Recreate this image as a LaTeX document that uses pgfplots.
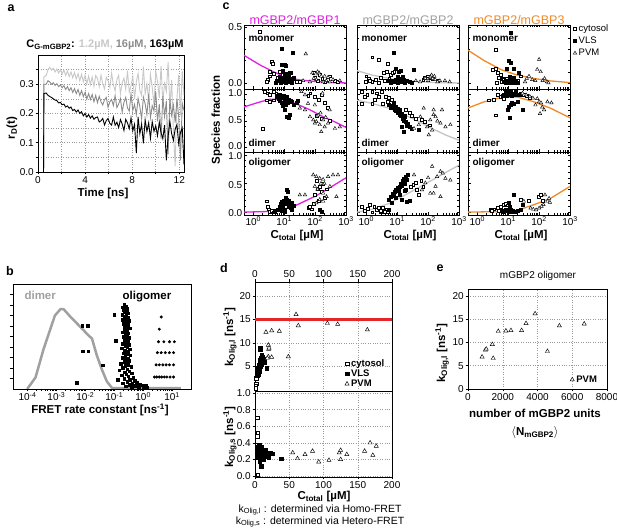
\documentclass[border=0pt]{standalone}
\usepackage{fontspec}
\setmainfont{Liberation Sans}
\usepackage{pgfplots}
\pgfplotsset{compat=1.18}
\usepackage{pgfplotstable}
\definecolor{mag}{HTML}{E020E0}
\definecolor{gry}{HTML}{A0A0A0}
\definecolor{cgry}{HTML}{C4C4C4}
\definecolor{org}{HTML}{F08A28}
\definecolor{lgr}{HTML}{C8C8C8}
\definecolor{mgr}{HTML}{8C8C8C}
\definecolor{redl}{HTML}{E4262B}
\newcommand\tk{\fontsize{10}{11}\selectfont}
\newcommand\lb{\bfseries\fontsize{11.5}{13}\selectfont}
\pgfplotsset{
 mybase/.style={scale only axis, anchor=south west, tick label style={font=\tk, inner sep=1.5pt},
   tick style={black, line width=0.5pt}, axis line style={line width=0.6pt},
   major tick length=2.5pt, minor tick length=1.6pt,
   grid style={dotted, gray!80, line width=0.5pt},
   minor grid style={dotted, gray!80, line width=0.5pt},
   legend cell align=left,
   legend image code/.code={\draw[mark repeat=2,mark phase=2,##1] plot coordinates {(0pt,0pt)(3pt,0pt)(6pt,0pt)};}},
 cyt/.style={only marks, mark=square*, mark size=1.4pt, mark options={fill=white, draw=black, line width=0.45pt}},
 vls/.style={only marks, mark=square*, mark size=1.5pt, mark options={fill=black, draw=black}},
 pvm/.style={only marks, mark=triangle*, mark size=2pt, mark options={fill=white, draw=black, line width=0.45pt}},
 mycax/.style={mybase, width=102pt, xmin=0.5, xmax=1000, xtick={1,10,100,1000}, xticklabels={}},
 myrowa/.style={height=64pt, ymin=-0.054, ymax=0.518, ytick={0,0.5}, minor ytick={0.1,0.2,0.3,0.4}},
 myrowb/.style={height=63pt, ymin=-0.08, ymax=1.1, ytick={0,0.5,1}, minor ytick={0.1,0.2,0.3,0.4,0.6,0.7,0.8,0.9}, yticklabel style={yshift=1.2pt}},
 myrowc/.style={height=63pt, ymin=-0.05, ymax=1.05, ytick={0,0.5,1}, minor ytick={0.1,0.2,0.3,0.4,0.6,0.7,0.8,0.9}, yticklabel style={yshift=-1.2pt}},
 myxlab/.style={xticklabels={10\textsuperscript{0},10\textsuperscript{1},10\textsuperscript{2},10\textsuperscript{3}}},
}
\pgfplotstableread{
t L G B
0.47 0 0 0
0.50 0.325 0.300 0.268
0.70 0.330 0.300 0.270
0.85 0.350 0.312 0.262
1.00 0.358 0.308 0.258
1.15 0.348 0.300 0.255
1.30 0.355 0.305 0.250
1.45 0.342 0.296 0.246
1.60 0.352 0.302 0.244
1.75 0.338 0.292 0.236
1.90 0.350 0.298 0.238
2.05 0.335 0.288 0.230
2.20 0.348 0.295 0.232
2.35 0.330 0.282 0.222
2.50 0.345 0.292 0.226
2.65 0.326 0.278 0.218
2.80 0.342 0.288 0.222
2.95 0.322 0.272 0.210
3.10 0.340 0.285 0.214
3.25 0.318 0.268 0.205
3.40 0.336 0.282 0.212
3.55 0.312 0.262 0.200
3.70 0.334 0.278 0.206
3.85 0.308 0.258 0.192
4.00 0.330 0.272 0.200
4.15 0.302 0.250 0.188
4.30 0.328 0.268 0.196
4.45 0.298 0.248 0.184
4.60 0.325 0.265 0.192
4.75 0.292 0.240 0.180
4.90 0.330 0.262 0.186
5.05 0.320 0.237 0.188
5.20 0.292 0.259 0.171
5.35 0.331 0.240 0.175
5.50 0.301 0.229 0.183
5.65 0.284 0.247 0.161
5.80 0.324 0.255 0.176
5.95 0.311 0.221 0.183
6.10 0.290 0.240 0.166
6.25 0.338 0.248 0.160
6.40 0.299 0.227 0.188
6.55 0.277 0.261 0.160
6.70 0.315 0.220 0.170
6.85 0.331 0.232 0.152
7.00 0.267 0.251 0.179
7.15 0.305 0.205 0.164
7.30 0.321 0.238 0.142
7.45 0.283 0.255 0.180
7.60 0.346 0.219 0.168
7.75 0.273 0.208 0.148
7.90 0.295 0.267 0.185
8.05 0.328 0.210 0.141
8.20 0.250 0.231 0.163
8.35 0.309 0.196 0.065
8.50 0.337 0.251 0.188
8.65 0.279 0.223 0.131
8.80 0.261 0.182 0.164
8.95 0.360 0.256 0.098
9.10 0.267 0.233 0.178
9.25 0.302 0.196 0.139
9.40 0.246 0.266 0.168
9.55 0.334 0.186 0.115
9.70 0.291 0.227 0.172
9.85 0.227 0.209 0.139
10.00 0.345 0.274 0.158
10.15 0.310 0.173 0.124
10.30 0.253 0.232 0.170
10.45 0.362 0.114 0.135
10.60 0.239 0.259 0.114
10.75 0.303 0.190 0.160
10.90 0.275 0.243 0.040
11.05 0.376 0.060 0.121
11.20 0.222 0.251 0.173
11.35 0.314 0.194 0.131
11.50 0.137 0.228 0.108
11.65 0.020 0.169 0.147
11.80 0.252 0.250 0.162
11.95 0.332 0.189 0.097
12.10 0.194 0.040 0.135
12.25 0.345 0.235 0.151
12.40 0.261 0.210 0.025
}\tabA
\begin{document}
\begin{tikzpicture}
\path[use as bounding box] (0pt,0pt) rectangle (617pt,529pt);

% ---------------- panel a
\begin{axis}[mybase, at={(38pt,357pt)}, width=146pt, height=117pt, xmin=0, xmax=12.4, ymin=0, ymax=0.4,
  xtick={0,4,8,12}, xticklabels={0,4,8,12}, minor xtick={2,6,10},
  ytick={0,0.1,0.2,0.3}, yticklabels={0.0,0.1,0.2,0.3}, minor ytick={0.05,0.15,0.25,0.35},
  grid=both, tick align=outside, xtick pos=left, ytick pos=left]
\addplot[lgr, line width=0.9pt, no markers] table[x=t,y=L]{\tabA};
\addplot[mgr, line width=0.9pt, no markers] table[x=t,y=G]{\tabA};
\addplot[black, line width=0.9pt, no markers] table[x=t,y=B]{\tabA};
\end{axis}

% ---------------- panel b
\begin{axis}[mybase, at={(13pt,140pt)}, width=178pt, height=105pt, xmode=log, xmin=3.16e-5, xmax=45, ymin=0, ymax=10,
  xtick={1e-4,1e-3,1e-2,1e-1,1,10},
  xticklabels={10\textsuperscript{-4},10\textsuperscript{-3},10\textsuperscript{-2},10\textsuperscript{-1},10\textsuperscript{0},10\textsuperscript{1}},
  xticklabel style={inner sep=0.5pt},
  ytick={1,2,3,4,5,6,7,8,9}, yticklabels={}, tick align=outside, xtick pos=left, ytick pos=left]
\addplot[gry, line width=2.5pt, no markers] coordinates {(9.8e-5,0) (1.9e-4,1.1) (3.6e-4,3.8) (8.9e-4,7.0) (1.38e-3,7.6) (1.78e-3,7.6) (3.0e-3,6.9) (6.8e-3,5.9) (1.29e-2,5.1) (1.7e-2,4.8) (2.5e-2,3.2) (3.8e-2,1.8) (5.6e-2,0.7) (8.5e-2,0.08) (20,0.08)};
\addplot[only marks, mark=square*, mark size=1.3pt, black] coordinates {(0.0078,6.0) (0.012,6.0) (0.0083,3.6) (0.0126,3.6) (0.04,2.25) (0.0051,0.6)};
\addplot[only marks, mark=square*, mark size=1.3pt, black] coordinates {
(0.22,8.0) (0.25,7.9) (0.2,7.8) (0.28,7.7) (0.24,7.6) (0.21,7.5) (0.27,7.4) (0.23,7.3) (0.3,7.2) (0.19,7.1) (0.1,7.05) (0.26,7.0)
(0.22,6.9) (0.29,6.8) (0.25,6.7) (0.2,6.6) (0.32,6.5) (0.24,6.4) (0.27,6.3) (0.21,6.2) (0.3,6.1) (0.23,6.0) (0.26,5.9) (0.35,5.8)
(0.22,5.7) (0.28,5.6) (0.25,5.5) (0.19,5.4) (0.3,5.3) (0.24,5.2) (0.27,5.1) (0.21,5.0) (0.33,4.9) (0.25,4.8) (0.11,4.6) (0.22,4.65)
(0.29,4.5) (0.26,4.4) (0.2,4.3) (0.31,4.2) (0.24,4.1) (0.28,4.0) (0.18,3.9) (0.34,3.8) (0.23,3.7) (0.26,3.6) (0.3,3.5) (0.21,3.4)
(0.27,3.3) (0.36,3.2) (0.24,3.1) (0.19,3.0) (0.29,2.9) (0.25,2.8) (0.32,2.7) (0.22,2.6) (0.27,2.5) (0.17,2.4) (0.3,2.3) (0.24,2.2)
(0.38,2.1) (0.2,2.0) (0.28,1.9) (0.15,1.8) (0.33,1.7) (0.23,1.6) (0.4,1.5) (0.26,1.4) (0.18,1.3) (0.3,1.2) (0.45,1.1) (0.22,1.0)
(0.13,0.9) (0.35,0.9) (0.5,0.8) (0.28,0.7) (0.6,0.6) (0.2,0.55) (0.42,0.5) (0.75,0.45) (0.33,0.4) (0.9,0.35) (0.55,0.3) (1.2,0.3)
(0.25,0.25) (0.7,0.2) (1.0,0.2) (0.4,0.15) (1.35,0.15)};
\addplot[only marks, mark=*, mark size=1.3pt, black] coordinates {
(4.2,6.86) (3.6,5.7) (3.4,4.5) (5.2,4.5) (8.1,4.5) (12,4.5)
(3.1,3.46) (4.2,3.46) (5.8,3.46) (8.1,3.46) (11.2,3.46)
(2.8,2.3) (3.6,2.3) (4.8,2.3) (6.2,2.3) (8.1,2.3) (11.2,2.3)
(2.45,1.14) (2.95,1.14) (3.6,1.14) (4.4,1.14) (5.4,1.14) (6.6,1.14) (8.5,1.14) (11.2,1.14)};
\end{axis}

% ---------------- panel c, column 1
\begin{axis}[xmode=log, mycax, myrowa, at={(244pt,440pt)}, yticklabels={0.0,0.5}]
\addplot[cyt] coordinates {(1.64,0.46) (3.9,0.19) (4.2,0.17) (3.0,0.03) (2.7,0.01) (3.5,0.06) (3.3,0.10) (4.5,0.08) (5.5,0.02) (7.2,0.10) (6,0.05) (9,0.07) (12,0.03) (15,0.09) (19.5,0.04) (25,0.01) (31.6,0.01) (90,0.09) (100,0.05) (120,0.02) (140,0.07) (170,0.04) (210,0.01) (250,0.03) (300,0.06) (420,0.02) (550,0.01)};
\addplot[vls] coordinates {(8.1,0.31) (18.6,0.27) (8.1,0.16) (10,0.16) (11.2,0.15) (9,0.11) (12,0.08) (7,0.06) (8,0.04) (9.5,0.02) (10.5,0.05) (11,0.0) (12.5,0.03) (14,0.06) (6,0.02) (7.5,0.0) (13,0.01) (15,0.04) (17,0.02) (20,0.05) (18,0.0) (9,0.01) (10,0.07) (16,0.09) (5.5,0.0)};
\addplot[pvm] coordinates {(50,0.26) (81,0.09) (105,0.08) (135,0.09) (158,0.06) (204,0.06) (263,0.05) (380,0.03) (631,0.02) (110,0.03) (68,0.01) (41,0.02) (182,0.01) (120,0.1) (300,0.01) (90,0.04) (230,0.02)};
\addplot[mag, line width=1.3pt, no markers] coordinates {(0.48,0.25) (1.66,0.16) (4.5,0.10) (12,0.05) (32,0.027) (112,0.012) (380,0.003) (1000,0.0)};
\node[anchor=west, font=\bfseries\fontsize{10}{11}\selectfont] at (rel axis cs:0.01,0.78) {monomer};
\end{axis}
\begin{axis}[xmode=log, mycax, myrowb, at={(244pt,377pt)}, yticklabels={0.0,0.5,1.0}]
\addplot[cyt] coordinates {(2.4,1.05) (3.0,1.02) (3.5,0.99) (4.5,1.05) (5.5,1.02) (2.7,0.89) (3.5,0.86) (4.5,0.89) (6,0.95) (7,1.0) (2.0,0.36) (60,0.98) (70,1.02) (100,0.95) (130,0.90) (160,1.0) (200,0.85) (250,0.75) (110,0.6) (160,0.55) (300,0.5)};
\addplot[vls] coordinates {(5.6,0.95) (6.5,1.0) (7.5,0.97) (8.5,0.93) (9.5,0.98) (10.5,0.92) (12,0.95) (14,0.9) (16,0.88) (7,0.88) (8,0.85) (9,0.82) (10,0.87) (11,0.8) (13,0.84) (18,0.86) (20,0.8) (10,0.71) (12,0.58) (15,0.61) (14,0.57) (28,0.89) (25,0.84) (6.5,0.92) (9,0.78)};
\addplot[pvm] coordinates {(36,1.05) (47,0.99) (59,0.83) (32,0.74) (47,0.71) (68,0.58) (87,0.52) (98,0.46) (110,0.49) (141,0.43) (182,0.52) (204,0.39) (263,0.46) (295,0.71) (437,0.36) (631,0.39) (158,0.3) (126,0.61) (174,1.02) (98,0.8) (150,0.65) (220,0.57)};
\addplot[mag, line width=1.3pt, no markers] coordinates {(0.48,0.76) (1.3,0.84) (3.5,0.91) (9.3,0.90) (25,0.82) (68,0.71) (182,0.58) (490,0.47) (1000,0.38)};
\node[anchor=west, font=\bfseries\fontsize{10}{11}\selectfont] at (rel axis cs:0.01,0.14) {dimer};
\end{axis}
\begin{axis}[xmode=log, mycax, myrowc, myxlab, at={(244pt,314pt)}, yticklabels={0.0,0.5,1.0}]
\addplot[cyt] coordinates {(2.7,0.19) (3.0,0.10) (3.5,0.01) (4,0.03) (4.5,0.0) (5,0.02) (3.2,0.05) (6,0.04) (60,0.08) (68,0.1) (80,0.05) (100,0.3) (120,0.4) (140,0.45) (110,0.55) (160,0.35) (180,0.5) (200,0.25) (130,0.2) (90,0.15) (240,0.4)};
\addplot[vls] coordinates {(5,0.01) (6,0.05) (7,0.1) (7.5,0.15) (8,0.12) (8.5,0.18) (9,0.08) (9.5,0.2) (10,0.14) (10.5,0.05) (11,0.17) (12,0.22) (12,0.39) (13,0.35) (13.5,0.1) (14,0.2) (15,0.13) (16,0.08) (17,0.16) (18,0.05) (20,0.12) (8,0.02) (10,0.0) (141,0.04) (158,0.01) (11,0.25)};
\addplot[pvm] coordinates {(87,0.65) (110,0.62) (141,0.59) (155,0.5) (182,0.57) (263,0.62) (380,0.65) (550,0.65) (98,0.45) (120,0.4) (182,0.33) (234,0.27) (141,0.22) (32,0.3) (47,0.3) (182,0.19) (490,0.27) (110,0.16) (300,0.45) (200,0.5)};
\addplot[mag, line width=1.3pt, no markers] coordinates {(0.48,0.0) (2.7,0.01) (9.3,0.05) (20,0.10) (32,0.15) (60,0.22) (112,0.29) (200,0.37) (380,0.46) (1000,0.60)};
\node[anchor=west, font=\bfseries\fontsize{10}{11}\selectfont] at (rel axis cs:0.01,0.825) {oligomer};
\end{axis}

% ---------------- panel c, column 2
\begin{axis}[xmode=log, mycax, myrowa, at={(357pt,440pt)}, yticklabels={}]
\addplot[cyt] coordinates {(1.55,0.23) (2.5,0.21) (5,0.17) (3.6,0.09) (4.5,0.1) (0.93,0.01) (1.55,0.01) (1.2,0.04) (2,0.03) (2.5,0.0) (3,0.05) (4,0.02) (6,0.07) (7,0.09) (8,0.1) (5.5,0.04) (1,0.06) (1.3,0.02) (70,0.03) (80,0.05) (100,0.06) (120,0.05) (140,0.04) (200,0.02)};
\addplot[vls] coordinates {(7.8,0.27) (8.7,0.13) (11.2,0.10) (13,0.11) (35,0.12) (6,0.0) (7,0.02) (8,0.01) (9,0.03) (10,0.0) (11,0.02) (12,0.04) (14,0.01) (16,0.03) (18,0.0) (20,0.02) (25,0.01) (30,0.0) (10,0.06) (15,0.06) (5,0.02)};
\addplot[pvm] coordinates {(81,0.04) (117,0.05) (140,0.04) (170,0.03) (240,0.02) (350,0.02) (55,0.01) (40,0.02) (100,0.02) (200,0.01) (120,0.06) (500,0.01) (160,0.06) (130,0.07)};
\addplot[cgry, line width=1.3pt, no markers] coordinates {(0.5,0.11) (1.55,0.07) (6.8,0.036) (30,0.015) (170,0.003) (1000,0.0)};
\node[anchor=west, font=\bfseries\fontsize{10}{11}\selectfont] at (rel axis cs:0.01,0.78) {monomer};
\end{axis}
\begin{axis}[xmode=log, mycax, myrowb, at={(357pt,377pt)}, yticklabels={}]
\addplot[cyt] coordinates {(0.72,1.05) (1.07,0.99) (1.55,1.05) (2.2,1.02) (3.2,1.05) (4.2,0.96) (5.4,0.93) (4.8,0.86) (3.3,0.83) (0.72,0.83) (1.55,0.82) (6.5,0.9) (2.5,0.95) (1.9,0.9) (0.9,0.95) (19,0.71) (25,0.65) (63,0.52) (80,0.48) (40,0.55) (110,0.42) (30,0.6)};
\addplot[vls] coordinates {(5.4,0.8) (6,0.75) (7,0.78) (8,0.72) (9,0.7) (10,0.66) (11,0.68) (12,0.62) (13,0.6) (14,0.64) (15,0.55) (16,0.5) (17,0.58) (19,0.48) (20,0.42) (22,0.45) (25,0.4) (30,0.36) (14.5,0.39) (16,0.3) (50,0.33) (9,0.76) (7.5,0.85) (12,0.72) (18,0.6) (10,0.74)};
\addplot[pvm] coordinates {(72,0.74) (151,0.71) (282,0.71) (174,0.58) (117,0.52) (93,0.39) (251,0.46) (363,0.39) (525,0.43) (105,0.24) (35,0.36) (50,0.43) (56,0.58) (135,0.33) (200,0.5) (150,0.62)};
\addplot[cgry, line width=1.3pt, no markers] coordinates {(0.5,0.89) (1.55,0.83) (5.4,0.74) (18,0.61) (50,0.49) (135,0.36) (363,0.24) (1000,0.14)};
\node[anchor=west, font=\bfseries\fontsize{10}{11}\selectfont] at (rel axis cs:0.01,0.14) {dimer};
\end{axis}
\begin{axis}[xmode=log, mycax, myrowc, myxlab, at={(357pt,314pt)}, yticklabels={}]
\addplot[cyt] coordinates {(0.72,0.1) (0.9,0.03) (1.1,0.06) (1.55,0.0) (1.8,0.1) (2.2,0.04) (2.9,0.0) (3.5,0.07) (4,0.01) (1.3,0.13) (2.5,0.08) (3,0.03) (4.5,0.05) (5,0.0) (27,0.45) (33,0.48) (44,0.39) (19,0.39) (50,0.3) (70,0.45) (60,0.55) (40,0.52)};
\addplot[vls] coordinates {(5.4,0.22) (6,0.27) (7,0.33) (7.5,0.28) (8,0.36) (9,0.4) (10,0.42) (11,0.38) (12,0.45) (13,0.5) (14,0.47) (15,0.55) (16,0.59) (19,0.62) (20,0.56) (22,0.65) (17,0.5) (14,0.22) (20,0.18) (12,0.3) (6.5,0.16) (5.5,0.04) (9,0.25) (25,0.2) (18,0.38)};
\addplot[pvm] coordinates {(35,0.65) (135,0.8) (195,0.62) (251,0.71) (363,0.59) (525,0.56) (81,0.51) (117,0.33) (150,0.33) (174,0.45) (251,0.27) (63,0.39) (100,0.6) (300,0.68)};
\addplot[cgry, line width=1.3pt, no markers] coordinates {(0.5,0.0) (1.55,0.05) (5.4,0.15) (18,0.30) (50,0.43) (135,0.56) (363,0.69) (1000,0.82)};
\node[anchor=west, font=\bfseries\fontsize{10}{11}\selectfont] at (rel axis cs:0.01,0.825) {oligomer};
\end{axis}

% ---------------- panel c, column 3
\begin{axis}[xmode=log, mycax, myrowa, at={(468pt,440pt)}, yticklabels={},
  legend style={at={(1.03,1.04)}, anchor=north west, draw=none, fill=none, font=\fontsize{9.5}{10.5}\selectfont, inner sep=0pt, row sep=0pt}]
\addplot[cyt] coordinates {(3.9,0.3) (3.1,0.12) (3.9,0.13) (4.5,0.09) (5.8,0.07) (6.5,0.04) (7.2,0.03) (5,0.05) (8,0.02) (9,0.04) (15.5,0.04) (25,0.06) (4.2,0.0) (6,0.01) (10,0.0) (20,0.02) (12,0.05)};
\addlegendentry{cytosol}
\addplot[vls] coordinates {(12,0.45) (10,0.2) (12,0.18) (14.8,0.13) (9,0.13) (22,0.09) (7,0.01) (8,0.0) (9,0.02) (10,0.0) (11,0.03) (12,0.01) (13,0.0) (14,0.02) (16,0.0) (18,0.01) (20,0.0) (11,0.06) (15,0.05)};
\addlegendentry{VLS}
\addplot[pvm] coordinates {(100,0.21) (87,0.12) (112,0.1) (47,0.06) (60,0.03) (75,0.02) (35,0.01) (130,0.02) (180,0.01) (150,0.04) (200,0.0) (40,0.04)};
\addlegendentry{PVM}
\addplot[org, line width=1.3pt, no markers, forget plot] coordinates {(0.48,0.295) (1.66,0.2) (5.8,0.12) (19.5,0.07) (68,0.04) (234,0.018) (1000,0.003)};
\node[anchor=west, font=\bfseries\fontsize{10}{11}\selectfont] at (rel axis cs:0.01,0.78) {monomer};
\end{axis}
\begin{axis}[xmode=log, mycax, myrowb, at={(468pt,377pt)}, yticklabels={}]
\addplot[cyt] coordinates {(2.4,0.89) (3.3,0.9) (3.9,0.61) (4.5,0.99) (5.5,0.95) (6.5,0.97) (7,0.92) (32,0.99) (40,0.97) (50,0.93) (25,1.0)};
\addplot[vls] coordinates {(7.2,1.0) (8,1.04) (9,0.98) (10,1.03) (11,1.0) (12,1.04) (13,0.97) (14,1.02) (16,1.0) (18,1.04) (20,0.99) (25,1.02) (9.3,0.72) (10,0.76) (12,0.8) (13,0.84) (15,0.83) (20,0.86) (29,0.72) (11.5,0.57)};
\addplot[pvm] coordinates {(29,1.02) (38,0.99) (50,0.96) (63,0.93) (87,0.92) (100,0.86) (115,0.84) (126,0.76) (107,0.64) (186,0.86) (251,0.84) (76,0.8) (145,0.71)};
\addplot[org, line width=1.3pt, no markers] coordinates {(0.48,0.74) (1.66,0.86) (5.8,0.94) (19.5,0.95) (68,0.86) (234,0.74) (1000,0.56)};
\node[anchor=west, font=\bfseries\fontsize{10}{11}\selectfont] at (rel axis cs:0.01,0.14) {dimer};
\end{axis}
\begin{axis}[xmode=log, mycax, myrowc, myxlab, at={(468pt,314pt)}, yticklabels={}]
\addplot[cyt] coordinates {(2.7,0.04) (3.4,0.05) (4.5,0.07) (5.8,0.1) (7.2,0.13) (8.5,0.15) (9.5,0.12) (25,0.22) (45,0.2) (100,0.27) (112,0.3) (130,0.2) (3,0.02) (5,0.03)};
\addplot[vls] coordinates {(14.8,0.3) (10,0.17) (11,0.1) (8,0.05) (6,0.02) (7,0.0) (9,0.03) (10,0.0) (11,0.02) (12,0.04) (13,0.0) (14,0.03) (16,0.01) (18,0.0) (20,0.02) (29,0.13) (25,0.05)};
\addplot[pvm] coordinates {(32,0.19) (53,0.07) (65,0.05) (100,0.07) (138,0.13) (186,0.19) (155,0.3) (224,0.17) (80,0.04) (120,0.1) (210,0.24)};
\addplot[org, line width=1.3pt, no markers] coordinates {(0.48,0.0) (5.8,0.01) (19.5,0.03) (68,0.13) (234,0.24) (1000,0.45)};
\node[anchor=west, font=\bfseries\fontsize{10}{11}\selectfont] at (rel axis cs:0.01,0.825) {oligomer};
\end{axis}

% ---------------- panel d top
\begin{axis}[mybase, at={(255pt,138pt)}, width=137pt, height=109pt, xmin=0, xmax=200, ymin=-0.4, ymax=23.1,
  xtick={0,50,100,150,200}, xticklabels={0,50,100,150,200}, xtick pos=right, xticklabel pos=right,
  ytick={5,10,15,20}, yticklabels={5,10,15,20}, ytick pos=left, tick align=outside, grid=major,
  legend style={at={(axis cs:131,6.9)}, anchor=north west, draw=none, fill=none, font=\bfseries\fontsize{9.5}{10}\selectfont, inner sep=0pt, row sep=-2pt}]
\addplot[cyt, mark size=1.8pt] coordinates {(1.5,2.3) (2.0,1.2) (1.2,0.6) (2.4,3.0) (3.4,4.2) (1.0,0.2) (2.8,3.6)};
\addlegendentry{cytosol}
\addplot[vls, mark size=1.8pt] coordinates {(7.3,8.8) (8,8.6) (9.5,7.4) (10.5,7.0) (9,6.7) (11,6.5) (12,6.6) (8,6.2) (10,6.0) (7,5.8) (9,5.5) (13,5.8) (6,5.2) (8,5.0) (10,5.4) (5,4.6) (7,4.4) (4.5,4.0) (6,3.8) (4,3.4) (5,3.1) (3.5,3.0) (17,4.5) (11,6.2) (14,6.4) (6.5,4.8)};
\addlegendentry{VLS}
\addplot[pvm, mark size=2.4pt] coordinates {(59.9,16.1) (63.2,13.7) (105.6,14.2) (120.7,14.0) (164,12.8) (16,12.3) (24.3,12.6) (35.5,12.5) (19.5,9.5) (20,8.6) (20.5,8.9) (19.5,7.0) (24.3,6.9) (48.7,7.0) (18,6.7)};
\addlegendentry{PVM}
\addplot[redl, line width=2.5pt, no markers, forget plot] coordinates {(0,15) (200,15)};
\end{axis}

% ---------------- panel d bottom
\begin{axis}[mybase, at={(255pt,52pt)}, width=137pt, height=86pt, xmin=0, xmax=200, ymin=-0.012, ymax=1.024,
  xtick={0,50,100,150,200}, xticklabels={0,50,100,150,200}, xtick pos=left,
  ytick={0,0.2,0.4,0.6,0.8,1.0}, yticklabels={0.0,0.2,0.4,0.6,0.8,1.0}, ytick pos=left, tick align=outside, grid=major]
\addplot[cyt, mark size=1.8pt] coordinates {(3.4,0.70) (4.1,0.52) (3,0.48) (2.5,0.37) (3.5,0.3) (4,0.016) (2.5,0.27)};
\addplot[vls, mark size=1.8pt] coordinates {(3,0.30) (4,0.35) (5,0.28) (6,0.25) (7,0.32) (8,0.22) (9,0.27) (10,0.30) (11,0.25) (12,0.20) (6,0.37) (8,0.33) (10,0.35) (13,0.28) (15,0.31) (18,0.26) (20,0.22) (22,0.28) (25,0.27) (16,0.24) (9,0.12) (7,0.18) (4,0.22) (5,0.33) (12,0.30) (38,0.21)};
\addplot[pvm, mark size=2.4pt] coordinates {(55,0.28) (62,0.21) (73,0.26) (84,0.30) (93,0.17) (108,0.19) (123,0.28) (125,0.31) (125,0.20) (134,0.26) (160,0.30) (168,0.40) (172,0.25) (177,0.36)};
\end{axis}

% ---------------- panel e
\begin{axis}[mybase, at={(468pt,140pt)}, width=139pt, height=100pt, xmin=0, xmax=8000, ymin=0, ymax=21.5,
  xtick={0,2000,4000,6000,8000}, xticklabels={0,2000,4000,6000,8000}, xtick pos=left,
  ytick={0,5,10,15,20}, yticklabels={0,5,10,15,20}, ytick pos=left, tick align=outside, grid=major,
  legend style={at={(axis cs:5870,2.0)}, anchor=west, draw=none, fill=none, font=\bfseries\fontsize{9.5}{10}\selectfont, inner sep=0pt}]
\addplot[pvm, mark size=2.4pt] coordinates {(810,6.9) (1000,8.4) (1050,8.6) (1400,9.6) (1450,6.6) (1740,12.4) (2180,12.5) (2470,12.6) (3085,12.6) (3340,14.1) (3860,16.2) (4570,8.1) (5260,13.6) (6690,14.0)};
\addlegendentry{PVM}
\end{axis}

% ---------------- text
\node[font=\bfseries\fontsize{12.5}{13}\selectfont] at (11pt,521pt) {a};
\node[font=\bfseries\fontsize{12.5}{13}\selectfont] at (10pt,258pt) {b};
\node[font=\bfseries\fontsize{12.5}{13}\selectfont] at (226pt,523pt) {c};
\node[font=\bfseries\fontsize{12.5}{13}\selectfont] at (224pt,261pt) {d};
\node[font=\bfseries\fontsize{12.5}{13}\selectfont] at (440pt,261pt) {e};

\node[font=\bfseries\fontsize{11}{12}\selectfont] at (105pt,484pt) {C\textsubscript{G-mGBP2}: \textcolor{lgr}{1.2µM,} \textcolor{mgr}{16µM,} 163µM};
\node[font=\lb, rotate=90] at (12pt,401pt) {r\textsubscript{D}(t)};
\node[font=\lb] at (103pt,335pt) {Time [ns]};

\node[font=\lb, text=gry, anchor=west] at (21pt,234pt) {dimer};
\node[font=\lb] at (147pt,232pt) {oligomer};
\node[font=\lb] at (100pt,119pt) {FRET rate constant [ns\textsuperscript{-1}]};

\node[font=\fontsize{12.5}{14}\selectfont, text=mag] at (295pt,509pt) {mGBP2/mGBP1};
\node[font=\fontsize{12.5}{14}\selectfont, text=gry] at (408pt,509pt) {mGBP2/mGBP2};
\node[font=\fontsize{12.5}{14}\selectfont, text=org] at (519pt,509pt) {mGBP2/mGBP3};
\node[font=\lb, rotate=90] at (217pt,409pt) {Species fraction};
\node[font=\lb] at (297pt,293pt) {C\textsubscript{total} [µM]};
\node[font=\lb] at (410pt,293pt) {C\textsubscript{total} [µM]};
\node[font=\lb] at (521pt,293pt) {C\textsubscript{total} [µM]};

\node[font=\lb, rotate=90] at (230pt,192pt) {k\textsubscript{Olig,l} [ns\textsuperscript{-1}]};
\node[font=\lb, rotate=90] at (230pt,92pt) {k\textsubscript{Olig,s} [ns\textsuperscript{-1}]};
\node[font=\lb] at (324pt,32pt) {C\textsubscript{total} [µM]};
\node[font=\fontsize{10.5}{12}\selectfont] at (320pt,19pt) {k\textsubscript{Olig,l} : determined via Homo-FRET};
\node[font=\fontsize{10.5}{12}\selectfont] at (320pt,7pt) {k\textsubscript{Olig,s} : determined via Hetero-FRET};

\node[font=\fontsize{10}{11}\selectfont] at (538pt,253pt) {mGBP2 oligomer};
\node[font=\lb, rotate=90] at (442pt,176pt) {k\textsubscript{Olig,l} [ns\textsuperscript{-1}]};
\node[font=\lb] at (535pt,116pt) {number of mGBP2 units};
\node[font=\lb] at (535pt,96pt) {$\langle$N\textsubscript{mGBP2}$\rangle$};
\end{tikzpicture}
\end{document}
